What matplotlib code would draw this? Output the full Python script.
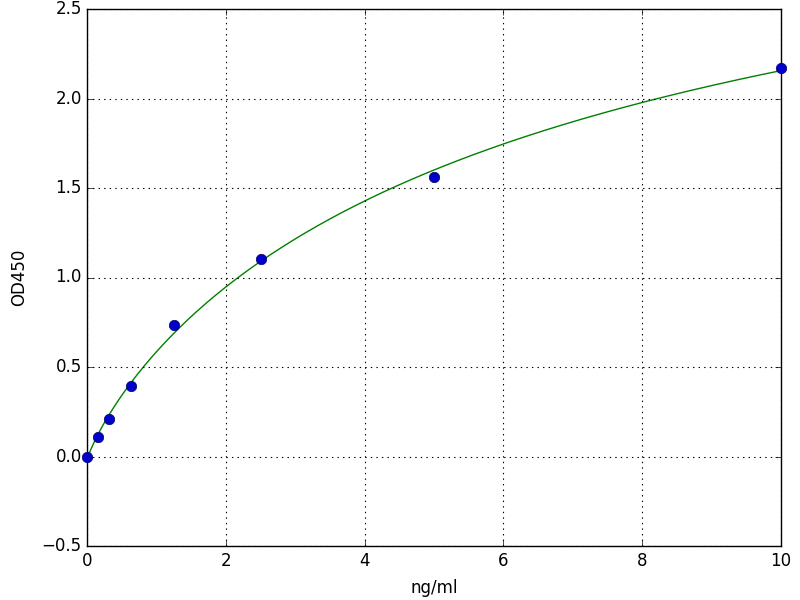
import numpy as np
import matplotlib
matplotlib.use("Agg")
import matplotlib.pyplot as plt

plt.style.use("classic")

conc = [0.0, 0.156, 0.3125, 0.625, 1.25, 2.5, 5.0, 10.0]
od450 = [0.0, 0.107, 0.212, 0.392, 0.735, 1.105, 1.56, 2.17]

x = np.array(conc)
y = np.array(od450)

# 4-parameter logistic fit (grid search over b, c; linear LS for a, d)
best = None
for b in np.linspace(0.5, 2.0, 151):
    for c in np.logspace(0, 2.5, 251):
        f = 1.0 / (1.0 + (x / c) ** b)
        A = np.column_stack([f, 1 - f])
        coef, *_ = np.linalg.lstsq(A, y, rcond=None)
        r = np.sum((A @ coef - y) ** 2)
        if best is None or r < best[0]:
            best = (r, b, c, coef[0], coef[1])
_, b, c, a, d = best
xs = np.linspace(0, 10, 400)
ys = d + (a - d) / (1.0 + (xs / c) ** b)

fig = plt.figure(figsize=(8, 6), dpi=100, facecolor="white")
ax = fig.add_axes([0.109, 0.09, 0.867, 0.895])
ax.plot(xs, ys, color="g", linewidth=1)
ax.plot(x, y, "o", color="#0000cc", markersize=7.5, markeredgecolor="#000066",
        clip_on=False, zorder=5)
ax.set_xlim(0, 10)
ax.set_ylim(-0.5, 2.5)
ax.set_xlabel("ng/ml", labelpad=7)
ax.set_ylabel("OD450", labelpad=10)
ax.grid(True, color="black", linestyle=":", linewidth=0.8)
fig.savefig("out.png", dpi=100, facecolor="white")
